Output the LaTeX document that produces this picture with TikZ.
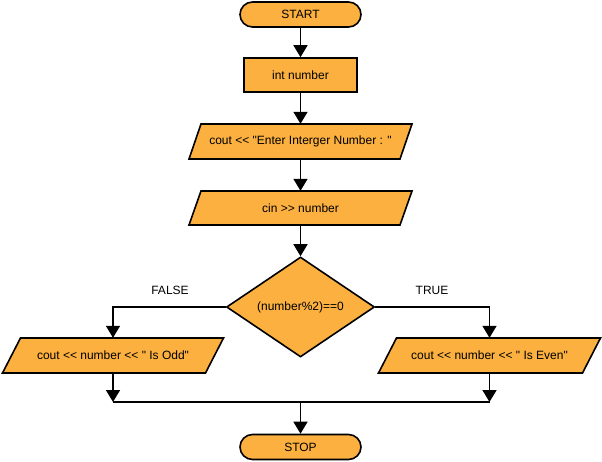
\documentclass[tikz,border=0pt]{standalone}
\usepackage{fontspec}
\setmainfont{Liberation Sans}[Ligatures=TeXOff]
\usetikzlibrary{arrows.meta,shapes.geometric,calc}
\definecolor{boxfill}{RGB}{251,176,64}
\newcommand\paranode[7]{%
  \draw[shapeline] (#2-#4+#6,#3-#5) -- (#2+#4+#6,#3-#5) -- (#2+#4-#6,#3+#5) -- (#2-#4-#6,#3+#5) -- cycle;
  \node[inner sep=0pt, minimum width=2*#4, minimum height=2*#5] (#1) at (#2,#3) {#7};}
\begin{document}
\begin{tikzpicture}[x=1pt,y=-1pt,
  every node/.style={font=\fontsize{12}{14}\selectfont},
  shapeline/.style={draw, line width=1.6pt, fill=boxfill},
  term/.style={shapeline, rounded corners=12.5pt, minimum width=121pt, minimum height=25pt, inner sep=0pt},
  proc/.style={shapeline, minimum width=113pt, minimum height=34pt, inner sep=0pt},
  decision/.style={shapeline, diamond, aspect=1.48, minimum width=148pt, minimum height=100pt, inner sep=0pt},
  conn/.style={line width=1.6pt},
  arr/.style={conn, -{Triangle[length=12pt,width=14pt]}},
  lbl/.style={inner sep=1pt}
]
\useasboundingbox[fill=white] (0,0) rectangle (602,462);
\node[term] (start) at (300.5,14.5) {START};
\node[proc] (int) at (300.5,75) {int number};
\paranode{p1}{300.5}{141.5}{105.5}{17.5}{6}{cout << "Enter Interger Number : "}
\paranode{p2}{300.5}{208}{105.5}{17}{6}{cin >> number}
\node[decision] (dec) at (300.5,307) {(number\%2)==0};
\paranode{podd}{113}{355.5}{101.5}{17.5}{9}{cout << number << " Is Odd"}
\paranode{peven}{489.5}{355.5}{102}{17.5}{9}{cout << number << " Is Even"}
\node[term] (stop) at (300.5,447) {STOP};
\node[lbl] (lfalse) at (170,290) {FALSE};
\node[lbl] (ltrue) at (432,290) {TRUE};
\coordinate (jm) at (300.5,402);
\coordinate (jl) at (podd.south |- jm);
\coordinate (jr) at (peven.south |- jm);
\draw[arr] (start) -- (int);
\draw[arr] (int) -- (p1);
\draw[arr] (p1) -- (p2);
\draw[arr] (p2) -- (dec);
\draw[arr] (dec.west) -| (podd.north);
\draw[arr] (dec.east) -| (peven.north);
\draw[arr] (podd.south) -- (jl);
\draw[arr] (peven.south) -- (jr);
\draw[conn] (jl) -- (jr);
\draw[arr] (jm) -- (stop);
\end{tikzpicture}
\end{document}
